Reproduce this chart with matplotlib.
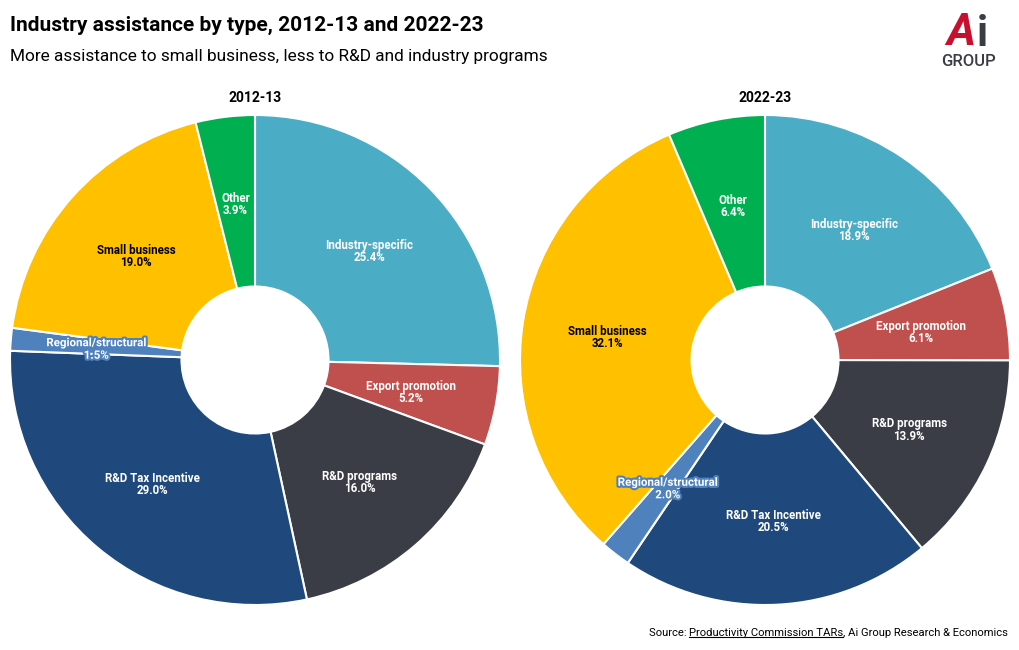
import matplotlib.pyplot as plt
import matplotlib.patheffects as pe
import numpy as np

plt.rcParams['font.family'] = ['Liberation Sans Narrow', 'Roboto', 'DejaVu Sans']

# Data
categories = ["Industry-specific", "Export promotion", "R&D programs",
              "R&D Tax Incentive", "Regional/structural", "Small business", "Other"]
share_2012 = [25.4, 5.2, 16.0, 29.0, 1.5, 19.0, 3.9]
share_2022 = [18.9, 6.1, 13.9, 20.5, 2.0, 32.1, 6.4]
years = ["2012-13", "2022-23"]

colors = ["#4BACC6", "#C0504D", "#3A3D46", "#1F497D", "#4F81BD", "#FFC000", "#00B050"]
text_colors = ["white", "white", "white", "white", "white", "black", "white"]

W, H = 1020, 650
fig = plt.figure(figsize=(W / 100, H / 100), dpi=100)

R = 245
centers = [(255, 360), (765, 360)]

for (cx, cy), vals, yr in zip(centers, [share_2012, share_2022], years):
    ax = fig.add_axes([(cx - R) / W, (H - cy - R) / H, 2 * R / W, 2 * R / H])
    wedges, _ = ax.pie(vals, colors=colors, startangle=90, counterclock=False,
                       radius=1, wedgeprops=dict(width=0.7, edgecolor="white", linewidth=1.5))
    ax.set_xlim(-1, 1)
    ax.set_ylim(-1, 1)
    ax.set_aspect("equal")
    ax.axis("off")
    for w, cat, v, tc in zip(wedges, categories, vals, text_colors):
        ang = np.deg2rad((w.theta1 + w.theta2) / 2)
        x, y = 0.65 * np.cos(ang), 0.65 * np.sin(ang) - 0.01
        t = ax.text(x, y, f"{cat}\n{v:.1f}%", ha="center", va="center",
                    fontsize=8.3, fontweight="bold", color=tc, linespacing=0.95)
        if cat == "Regional/structural":
            t.set_path_effects([pe.withStroke(linewidth=3, foreground="#4F81BD")])
    fig.text(cx / W, 1 - 98 / H, yr, ha="center", va="center",
             fontsize=10, fontweight="bold")

# Titles
fig.text(10 / W, 1 - 25 / H, "Industry assistance by type, 2012-13 and 2022-23",
         ha="left", va="center", fontsize=15, fontweight="bold")
fig.text(10 / W, 1 - 57 / H, "More assistance to small business, less to R&D and industry programs",
         ha="left", va="center", fontsize=12.4)

# Logo
fig.text(961 / W, 1 - 33 / H, "A", ha="center", va="center", fontsize=32,
         fontweight="bold", fontstyle="italic", color="#C8102E")
fig.text(982 / W, 1 - 35 / H, "i", ha="center", va="center", fontsize=30,
         fontweight="bold", color="#3A3D46")
fig.text(969 / W, 1 - 61 / H, "GROUP", ha="center", va="center", fontsize=12,
         fontweight="medium", color="#3A3D46")

# Source line with underlined link text
renderer = fig.canvas.get_renderer()
parts = ["Source: ", "Productivity Commission TARs", ", Ai Group Research & Economics"]
x_right = 1008
y_src = 1 - 633 / H
for part in reversed(parts):
    t = fig.text(x_right / W, y_src, part, ha="right", va="center", fontsize=8.1)
    bb = t.get_window_extent(renderer)
    if part.startswith("Productivity"):
        fig.add_artist(plt.Line2D([bb.x0 / W, bb.x1 / W], [(bb.y0 + 1) / H] * 2,
                                  color="black", lw=0.8))
    x_right = bb.x0

fig.savefig("out.png", dpi=100)
